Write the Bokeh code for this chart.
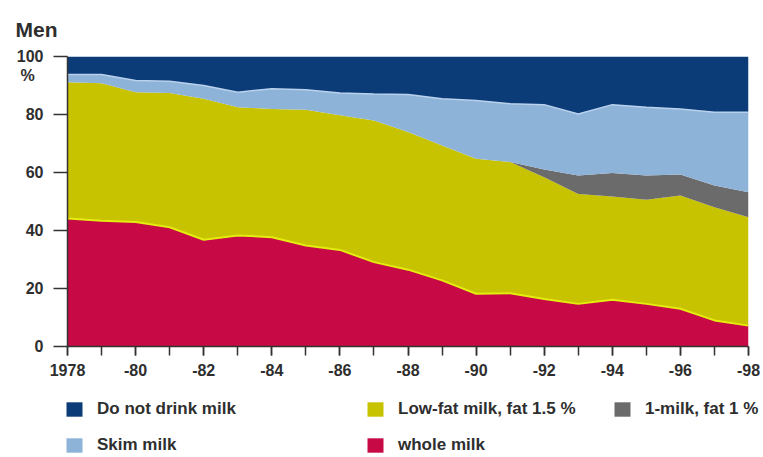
from bokeh.plotting import figure
from bokeh.models import ColumnDataSource, Range1d, FixedTicker, Legend, LegendItem, LinearAxis, Title
from bokeh.layouts import column
from bokeh.embed import file_html
from bokeh.resources import INLINE
import numpy as np

years = list(range(1978, 1999))
whole_milk = [44.1, 43.4, 42.9, 41.1, 36.8, 38.3, 37.7, 34.8, 33.3, 29.1, 26.5,
              22.8, 18.2, 18.4, 16.4, 14.7, 16.1, 14.7, 13.0, 9.0, 7.2]
low_fat = [47.0, 47.4, 44.8, 46.3, 48.6, 44.2, 44.2, 46.8, 46.4, 48.8, 47.5,
           46.5, 46.5, 45.2, 42.0, 37.9, 35.6, 35.9, 39.1, 39.0, 37.4]
one_milk = [0, 0, 0, 0, 0, 0, 0, 0, 0, 0, 0,
            0, 0, 0, 2.6, 6.4, 8.1, 8.4, 7.2, 7.5, 8.6]
skim_milk = [2.7, 3.0, 4.0, 4.1, 4.6, 5.2, 7.0, 6.9, 7.7, 9.2, 12.9,
             16.1, 20.1, 20.1, 22.4, 21.2, 23.6, 23.5, 22.6, 25.3, 27.6]
no_milk = [6.2, 6.2, 8.3, 8.5, 10.0, 12.3, 11.1, 11.5, 12.6, 12.9, 13.1,
           14.6, 15.2, 16.3, 16.6, 19.8, 16.6, 17.5, 18.1, 19.2, 19.2]

series_names = ["whole", "lowfat", "onemilk", "skim", "none"]
series_labels = ["whole milk", "Low-fat milk, fat 1.5 %", "1-milk, fat 1 %",
                 "Skim milk", "Do not drink milk"]
series_colors = ["#c70a45", "#c8c300", "#6b6b6b", "#8db3d9", "#0b3c78"]

x_ticks = [1978, 1980, 1982, 1984, 1986, 1988, 1990, 1992, 1994, 1996, 1998]
x_tick_labels = ["1978", "-80", "-82", "-84", "-86", "-88", "-90", "-92", "-94", "-96", "-98"]
y_ticks = [0, 20, 40, 60, 80, 100]
y_tick_labels = ["0", "20", "40", "60", "80", "100"]
unit_label = "%"
unit_label_pos = 93.4

FONT = "Liberation Sans"
TXT = "#2e2e2e"

src = ColumnDataSource(dict(x=years, whole=whole_milk, lowfat=low_fat,
                            onemilk=one_milk, skim=skim_milk, none=no_milk))

p = figure(width=763, height=390, output_backend="svg", toolbar_location=None,
           x_range=Range1d(1978, 1998), y_range=Range1d(0, 100),
           min_border_left=67, min_border_right=15, min_border_top=56,
           min_border_bottom=44)
p.frame_align = False
p.background_fill_color = "white"
p.outline_line_color = None
p.grid.visible = False

rs = p.varea_stack(stackers=series_names, x="x", color=series_colors, source=src)

# thin highlight lines along boundaries
whole_top = np.array(whole_milk)
p.line(years, whole_top, line_color="#e4ec10", line_width=2)
skim_top = 100 - np.array(no_milk)
p.line(years, skim_top, line_color="#b9d1ec", line_width=1.5)

# title
p.title = Title(text="Men", align="left", offset=-52, vertical_align="top", standoff=28,
                text_font=FONT, text_font_style="bold", text_font_size="21px",
                text_color=TXT)

# x axis
xa = p.xaxis[0]
xa.ticker = FixedTicker(ticks=x_ticks, minor_ticks=years)
xa.major_label_overrides = {t: l for t, l in zip(x_ticks, x_tick_labels)}
xa.major_tick_out = 9
xa.major_tick_in = 0
xa.minor_tick_out = 9
xa.minor_tick_in = 0
xa.major_label_standoff = 8
xa.axis_line_color = "#333333"
xa.axis_line_width = 1.5
xa.major_tick_line_color = "#333333"
xa.major_tick_line_width = 1.5
xa.minor_tick_line_color = "#333333"
xa.minor_tick_line_width = 1.5
xa.major_label_text_font = FONT
xa.major_label_text_font_style = "bold"
xa.major_label_text_font_size = "16px"
xa.major_label_text_color = TXT

# y axis: tick marks (inner) and labels (outer, includes unit sign)
ya = p.yaxis[0]
ya.ticker = FixedTicker(ticks=y_ticks)
ya.major_tick_out = 14
ya.major_tick_in = 0
ya.minor_tick_line_color = None
ya.major_label_standoff = 0
ya.major_label_overrides = {t: "" for t in y_ticks}
ya.axis_line_color = "#333333"
ya.axis_line_width = 1.5
ya.major_tick_line_color = "#333333"
ya.major_tick_line_width = 1.5

yl = LinearAxis(ticker=FixedTicker(ticks=y_ticks + [unit_label_pos]))
overrides = {t: l for t, l in zip(y_ticks, y_tick_labels)}
overrides[unit_label_pos] = unit_label + "\u00a0\u00a0"
yl.major_label_overrides = overrides
yl.axis_line_color = None
yl.major_tick_line_color = None
yl.minor_tick_line_color = None
yl.major_tick_out = 0
yl.major_tick_in = 0
yl.minor_tick_out = 0
yl.minor_tick_in = 0
yl.major_label_standoff = 10
yl.major_label_text_font = FONT
yl.major_label_text_font_style = "bold"
yl.major_label_text_font_size = "16px"
yl.major_label_text_color = TXT
p.add_layout(yl, "left")

# legend figure below the chart
lf = figure(width=763, height=67, output_backend="svg", toolbar_location=None,
            x_range=Range1d(1978, 1998), y_range=Range1d(-20, -10),
            x_axis_type=None, y_axis_type=None,
            min_border_left=0, min_border_right=0, min_border_top=0, min_border_bottom=0)
lf.frame_align = False
lf.outline_line_color = None
lf.grid.visible = False
lrs = lf.varea_stack(stackers=series_names, x="x", color=series_colors, source=src)

by_name = dict(zip(series_names, lrs))
lab = dict(zip(series_names, series_labels))
groups = [(["none", "skim"], 64, 2), (["lowfat", "whole"], 365, 2), (["onemilk"], 612, 38)]
for names, lx, ly in groups:
    items = [LegendItem(label=lab[n], renderers=[by_name[n]]) for n in names]
    lg = Legend(items=items, location=(lx, ly), orientation="vertical",
                glyph_width=20, glyph_height=18, label_height=18, spacing=16,
                label_standoff=13, padding=0, margin=0,
                border_line_color=None, background_fill_alpha=0,
                label_text_font=FONT, label_text_font_style="bold",
                label_text_font_size="17px", label_text_color=TXT)
    lf.add_layout(lg, "center")

layout = column(p, lf, spacing=0)
open("out.html", "w").write(file_html(layout, INLINE))
